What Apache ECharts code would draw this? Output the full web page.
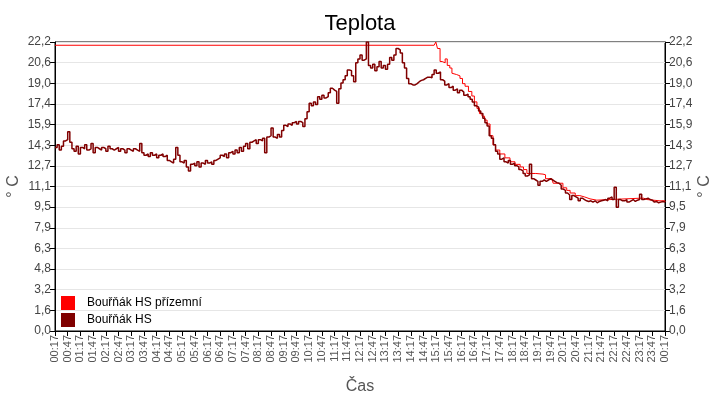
<!DOCTYPE html>
<html><head><meta charset="utf-8">
<script src="https://cdn.jsdelivr.net/npm/echarts@6/dist/echarts.min.js"></script>
<style>html,body{margin:0;padding:0;background:#fff}#c{width:720px;height:400px}</style>
</head><body><div id="c"></div>
<script>
const titleText = 'Teplota';
const seriesNames = ['Bouřňák HS přízemní', 'Bouřňák HS'];
const startOffsetMin = 17;      // first sample at 00:17
const sampleStepMin = 5;        // dark series sampled every 5 minutes
const yTickLabels = ['0,0','1,6','3,2','4,8','6,3','7,9','9,5','11,1','12,7','14,3','15,9','17,4','19,0','20,6','22,2'];
const yMax = 22.2;

// Bouřňák HS (dark red), every 5 minutes from 00:17
const hsValues = [
14.1,14.3,13.9,14.2,14.6,14.7,15.3,14.5,
14.0,13.8,14.2,13.6,14.1,14.0,14.3,13.9,14.0,14.4,13.7,14.1,14.0,13.9,14.1,14.0,13.8,14.2,14.0,13.9,14.0,14.1,13.8,14.0,13.9,13.7,14.0,13.9,13.8,14.0,13.9,13.8,
14.4,
13.7,13.5,13.6,13.4,13.7,13.5,13.6,13.3,13.5,13.6,13.4,13.5,
13.1,13.0,12.9,13.2,
14.1,13.5,
13.0,12.9,13.1,12.6,12.3,12.8,12.9,12.7,13.0,12.6,12.9,12.8,13.1,12.9,13.0,12.8,13.1,
13.2,13.3,
13.5,13.4,13.6,13.3,13.7,
13.8,13.6,13.9,13.7,
14.1,13.8,14.2,
14.4,14.0,14.5,
14.6,14.7,14.4,14.7,14.6,14.8,
13.7,
14.9,15.0,15.6,14.9,14.8,15.1,14.9,
15.4,15.8,15.7,15.9,15.8,
16.0,16.1,15.9,16.1,16.0,
15.7,16.3,
16.85,
17.5,17.3,17.6,17.4,
18.0,17.8,18.1,17.9,18.0,18.3,
18.65,18.5,18.4,17.5,18.6,
19.05,19.3,19.6,
20.05,20.0,19.6,
19.15,
20.6,20.9,
21.2,20.8,20.9,
22.2,20.4,
20.2,20.5,20.0,20.3,20.7,20.2,20.4,20.1,20.5,
21.0,20.8,21.2,
21.7,21.6,21.35,
20.6,20.2,19.4,19.0,18.9,18.9,19.0,19.15,19.25,19.3,19.4,19.5,19.5,19.45,19.7,20.05,19.8,19.9,
19.3,19.2,18.9,19.0,18.7,18.8,18.5,18.6,18.3,18.5,18.35,18.1,18.2,18.0,17.8,17.6,17.3,17.2,16.9,16.7,16.35,16.0,15.75,
15.0,14.8,14.3,13.8,13.6,13.2,13.3,13.0,12.9,13.1,12.8,12.9,12.7,12.6,12.4,12.3,12.1,11.9,12.0,
12.8,
11.7,11.6,11.5,11.2,11.5,11.6,11.5,11.6,11.7,11.6,11.5,11.4,11.35,11.2,10.9,10.8,10.6,10.45,
10.1,10.4,10.3,10.2,10.0,10.2,10.1,10.0,
9.95,10.0,9.9,10.0,9.85,9.95,
10.0,10.05,10.1,10.0,10.2,10.3,10.1,
11.05,9.5,10.1,10.0,
10.0,10.1,9.9,10.0,10.1,9.95,10.05,10.1,
10.5,
10.1,10.15,10.2,10.1,10.05,
9.9,9.95,9.85,9.9,9.95,9.9,9.9
];

// Bouřňák HS přízemní (red): minutes after 00:17 and values at its break points
const groundMinutes = [0,895,899,903,909,914,918,921,926,932,937,940,948,956,962,968,976,984,990,996,1002,1008,1014,1020,1027,1034,1040,1050,1062,1074,1086,1098,1106,1114,1135,1152,1158,1173,1176,1192,1199,1208,1216,1228,1239,1250,1263,1279,1381,1390,1397,1428,1440];
const groundValues  = [21.95,21.95,22.2,21.7,20.7,20.8,20.6,20.9,20.4,20.2,19.8,19.7,19.6,19.4,19.0,18.8,18.4,18.05,17.6,17.1,16.7,16.5,16.2,15.9,15.0,14.3,13.9,13.6,13.3,13.0,12.8,12.6,12.4,12.1,12.05,12.0,11.7,11.6,11.35,11.35,11.0,10.8,10.6,10.4,10.3,10.15,10.05,10.2,10.2,10.1,10.0,10.0,9.9];

const hsData = hsValues.map((v, i) => [i * sampleStepMin, v]);
const groundData = groundMinutes.map((m, i) => [m, groundValues[i]]);

function clock(m) {
  const t = (m + startOffsetMin) % 1440;
  const h = Math.floor(t / 60), mm = t % 60;
  return String(h).padStart(2, '0') + ':' + String(mm).padStart(2, '0');
}
const yInterval = yMax / 14;
function yLabel(v) {
  const idx = Math.round(v / yInterval);
  return yTickLabels[idx] !== undefined ? yTickLabels[idx] : '';
}

const chart = echarts.init(document.getElementById('c'), null, {renderer: 'canvas'});
const fontFamily = 'Liberation Sans, Arial, sans-serif';
const yAxisBase = {
  type: 'value', min: 0, max: yMax, interval: yInterval,
  name: '° C', nameLocation: 'middle', nameMoveOverlap: false, nameRotate: 90,
  nameTextStyle: {fontSize: 16, color: '#555', fontFamily},
  axisLine: {show: true, lineStyle: {color: '#000', width: 1}},
  axisTick: {show: true, length: 5, lineStyle: {color: '#000'}},
  axisLabel: {fontSize: 12, color: '#444', fontFamily, formatter: yLabel, margin: 4}
};
chart.setOption({
  animation: false,
  backgroundColor: '#fff',
  title: {text: titleText, left: 'center', top: 8,
    textStyle: {fontSize: 22, fontWeight: 'normal', color: '#000', fontFamily}},
  grid: {left: 55, right: 55, top: 42, bottom: 69, show: true, borderColor: '#000', borderWidth: 1,
    containLabel: false, outerBoundsMode: 'none'},
  legend: {
    orient: 'vertical', left: 56, top: 291, itemWidth: 14, itemHeight: 14, itemGap: 3,
    icon: 'rect', textStyle: {fontSize: 12, color: '#000', fontFamily, padding: [0,0,0,7]},
    data: seriesNames
  },
  xAxis: {
    type: 'value', min: 0, max: 1440, interval: 30,
    name: 'Čas', nameLocation: 'middle', nameGap: 48, nameMoveOverlap: false,
    nameTextStyle: {fontSize: 16, color: '#555', fontFamily},
    axisLine: {show: true, lineStyle: {color: '#000', width: 1}},
    axisTick: {show: true, length: 5, lineStyle: {color: '#000'}},
    splitLine: {show: false},
    axisLabel: {rotate: 90, fontSize: 11, color: '#555', fontFamily, formatter: clock, margin: 4,
      showMinLabel: true, showMaxLabel: true, hideOverlap: false}
  },
  yAxis: [
    Object.assign({}, yAxisBase, {position: 'left', nameGap: 33,
      splitLine: {show: true, lineStyle: {color: '#e6e6e6', width: 1}}}),
    Object.assign({}, yAxisBase, {position: 'right', nameGap: 32, splitLine: {show: false}})
  ],
  series: [
    {name: seriesNames[0], type: 'line', data: groundData, symbol: 'none', step: 'end',
      lineStyle: {color: '#ff0000', width: 1}, itemStyle: {color: '#ff0000'}, z: 2},
    {name: seriesNames[1], type: 'line', data: hsData, symbol: 'none', step: 'end',
      lineStyle: {color: '#800000', width: 1.5}, itemStyle: {color: '#800000'}, z: 3}
  ]
});
</script>
</body></html>
